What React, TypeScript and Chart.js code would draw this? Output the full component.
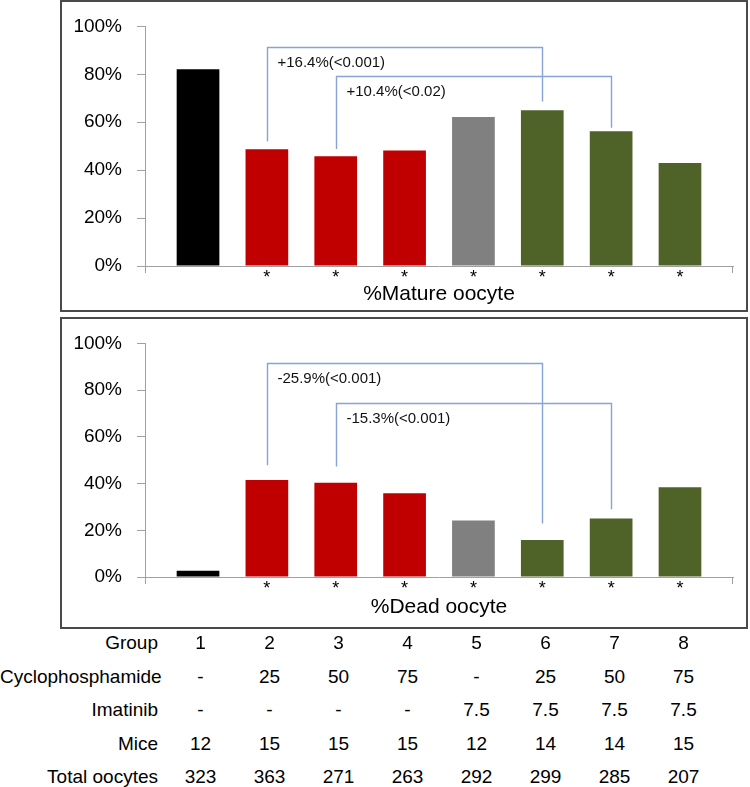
import React, { useEffect, useRef } from 'react';
import { Chart, registerables } from 'chart.js';

Chart.register(...registerables);

// ---------- data ----------
const GROUPS = [1, 2, 3, 4, 5, 6, 7, 8];
const MATURE = [82.1, 48.7, 45.8, 48.2, 62.2, 65.0, 56.2, 43.0];
const DEAD = [2.7, 41.5, 40.3, 35.9, 24.2, 15.8, 25.0, 38.4];
const BAR_COLORS = ['#000000', '#C00000', '#C00000', '#C00000', '#808080', '#4F6228', '#4F6228', '#4F6228'];
const STARS = ['', '*', '*', '*', '*', '*', '*', '*'];
const Y_TICKS = [0, 20, 40, 60, 80, 100];

const MATURE_BRACKETS = [
  { from: 2, to: 6, top: 91.5, fromEnd: 52.0, toEnd: 68.7, label: '+16.4%(<0.001)' },
  { from: 3, to: 7, top: 79.3, fromEnd: 48.8, toEnd: 57.7, label: '+10.4%(<0.02)' },
];
const DEAD_BRACKETS = [
  { from: 2, to: 6, top: 91.8, fromEnd: 47.8, toEnd: 22.9, label: '-25.9%(<0.001)' },
  { from: 3, to: 7, top: 74.7, fromEnd: 47.3, toEnd: 29.0, label: '-15.3%(<0.001)' },
];

const ROW_LABELS = ['Group', 'Cyclophosphamide', 'Imatinib', 'Mice', 'Total oocytes'];
const GROUP_LABELS = ['1', '2', '3', '4', '5', '6', '7', '8'];
const CYCLO = ['-', '25', '50', '75', '-', '25', '50', '75'];
const IMATINIB = ['-', '-', '-', '-', '7.5', '7.5', '7.5', '7.5'];
const MICE = ['12', '15', '15', '15', '12', '14', '14', '15'];
const TOTAL = ['323', '363', '271', '263', '292', '299', '285', '207'];
const TABLE_ROWS = [GROUP_LABELS, CYCLO, IMATINIB, MICE, TOTAL];

// ---------- styles ----------
const FONT = '"Liberation Sans", Arial, sans-serif';
const AXIS = '#a0a0a0';
const BRACKET = '#86a4d6';
const PANEL_BORDER = '#4a4a4a';

type Bracket = { from: number; to: number; top: number; fromEnd: number; toEnd: number; label: string };

function BarPanel(props: {
  values: number[];
  brackets: Bracket[];
  title: string;
  padTop: number;
  xHeight: number;
  titlePad: number;
  height: number;
}) {
  const ref = useRef<HTMLCanvasElement | null>(null);
  useEffect(() => {
    const canvas = ref.current;
    if (!canvas) return;
    const { values, brackets, title, padTop, xHeight, titlePad } = props;

    const deco = {
      id: 'deco',
      afterDatasetsDraw(chart: any) {
        const { ctx, scales, chartArea } = chart;
        const x = scales.x;
        const y = scales.y;
        ctx.save();
        // end ticks of the category axis
        ctx.strokeStyle = AXIS;
        ctx.lineWidth = 1;
        ctx.beginPath();
        ctx.moveTo(Math.round(chartArea.left) + 0.5, chartArea.bottom);
        ctx.lineTo(Math.round(chartArea.left) + 0.5, chartArea.bottom + 7);
        ctx.moveTo(Math.round(chartArea.right) - 0.5, chartArea.bottom);
        ctx.lineTo(Math.round(chartArea.right) - 0.5, chartArea.bottom + 7);
        ctx.stroke();
        // comparison brackets
        ctx.strokeStyle = BRACKET;
        ctx.lineWidth = 1.4;
        ctx.font = '15px ' + FONT;
        ctx.fillStyle = '#111';
        ctx.textBaseline = 'middle';
        ctx.textAlign = 'left';
        for (const b of brackets) {
          const x1 = Math.round(x.getPixelForValue(b.from)) + 0.5;
          const x2 = Math.round(x.getPixelForValue(b.to)) + 0.5;
          const yt = Math.round(y.getPixelForValue(b.top)) + 0.5;
          ctx.beginPath();
          ctx.moveTo(x1, y.getPixelForValue(b.fromEnd));
          ctx.lineTo(x1, yt);
          ctx.lineTo(x2, yt);
          ctx.lineTo(x2, y.getPixelForValue(b.toEnd));
          ctx.stroke();
          ctx.fillText(b.label, x1 + 10, yt + 15);
        }
        ctx.restore();
      },
    };

    const chart = new Chart(canvas, {
      type: 'bar',
      data: {
        datasets: [
          {
            data: GROUPS.map((g, i) => ({ x: g, y: values[i] })),
            backgroundColor: BAR_COLORS,
            borderWidth: 0,
            categoryPercentage: 1,
            barPercentage: 0.62,
          } as any,
        ],
      },
      options: {
        responsive: false,
        animation: false,
        layout: { padding: { left: 0, right: 17, top: padTop, bottom: 0 } },
        plugins: { legend: { display: false }, tooltip: { enabled: false } },
        scales: {
          x: {
            type: 'linear',
            offset: false,
            min: 0.23,
            max: 8.77,
            afterBuildTicks: (s: any) => {
              s.ticks = GROUPS.map((v) => ({ value: v }));
            },
            afterFit: (s: any) => {
              s.height = xHeight;
            },
            grid: { display: false, drawTicks: false },
            border: { display: true, color: AXIS, width: 1 },
            ticks: {
              padding: 1,
              autoSkip: false,
              maxRotation: 0,
              color: '#000',
              font: { family: FONT, size: 18 },
              callback: (v: any) => {
                const i = GROUPS.indexOf(Number(v));
                return i >= 0 ? STARS[i] : '';
              },
            },
            title: {
              display: true,
              text: title,
              color: '#000',
              font: { family: FONT, size: 21 },
              padding: { top: 0, bottom: titlePad },
            },
          },
          y: {
            min: 0,
            max: 100,
            afterBuildTicks: (s: any) => {
              s.ticks = Y_TICKS.map((v) => ({ value: v }));
            },
            afterFit: (s: any) => {
              s.width = 145;
            },
            grid: { drawOnChartArea: false, drawTicks: true, tickLength: 8, color: AXIS },
            border: { display: true, color: AXIS, width: 1 },
            ticks: {
              padding: 15,
              color: '#000',
              font: { family: FONT, size: 19 },
              callback: (v: any) => v + '%',
            },
          },
        },
      } as any,
      plugins: [deco],
    });
    return () => chart.destroy();
  }, []);
  return <canvas ref={ref} width={750} height={props.height} style={{ display: 'block', width: 750, height: props.height }} />;
}

export default function App() {
  return (
    <div
      style={{
        position: 'absolute',
        left: 0,
        top: 0,
        width: 750,
        height: 787,
        background: '#fff',
        fontFamily: FONT,
        color: '#000',
        overflow: 'hidden',
      }}
    >
      <div style={{ position: 'absolute', left: 0, top: 0 }}>
        <BarPanel values={MATURE} brackets={MATURE_BRACKETS} title="%Mature oocyte" padTop={20} xHeight={45} titlePad={4} height={311} />
      </div>
      <div style={{ position: 'absolute', left: 0, top: 317 }}>
        <BarPanel values={DEAD} brackets={DEAD_BRACKETS} title="%Dead oocyte" padTop={15} xHeight={51} titlePad={8} height={311} />
      </div>
      <div
        style={{
          position: 'absolute',
          left: 60,
          top: 0,
          width: 688,
          height: 312,
          boxSizing: 'border-box',
          border: '2px solid ' + PANEL_BORDER,
          pointerEvents: 'none',
        }}
      />
      <div
        style={{
          position: 'absolute',
          left: 60,
          top: 317,
          width: 688,
          height: 312,
          boxSizing: 'border-box',
          border: '2px solid ' + PANEL_BORDER,
          pointerEvents: 'none',
        }}
      />
      {ROW_LABELS.map((label, r) => (
        <React.Fragment key={label}>
          <div
            style={{
              position: 'absolute',
              left: 0,
              width: 158,
              top: 633 + r * 33.5,
              height: 20,
              lineHeight: '20px',
              fontSize: 19,
              textAlign: 'right',
              whiteSpace: 'nowrap',
            }}
          >
            {label}
          </div>
          {TABLE_ROWS[r].map((v, c) => (
            <div
              key={c}
              style={{
                position: 'absolute',
                left: 166 + c * 69,
                width: 69,
                top: 633 + r * 33.5,
                height: 20,
                lineHeight: '20px',
                fontSize: 19,
                textAlign: 'center',
              }}
            >
              {v}
            </div>
          ))}
        </React.Fragment>
      ))}
    </div>
  );
}
